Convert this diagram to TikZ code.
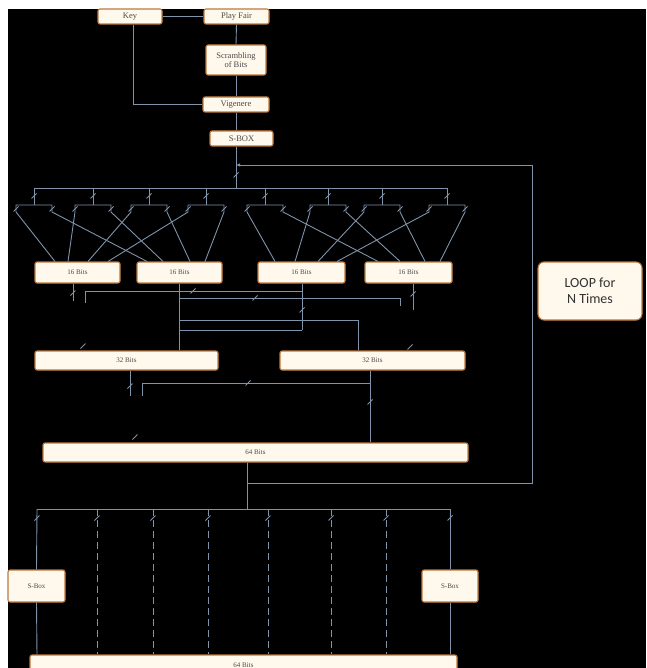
\documentclass[tikz,border=0pt]{standalone}
\usepackage{fontspec}
\setmainfont{Liberation Serif}
\newfontfamily\loopfont{Carlito}
\usetikzlibrary{arrows.meta}
\definecolor{wirec}{HTML}{7F93AB}
\definecolor{boxfill}{HTML}{FFF8EC}
\definecolor{boxedge}{HTML}{C0783A}
\definecolor{boxtext}{HTML}{4A4A4A}
\begin{document}
\begin{tikzpicture}[x=1pt,y=-1pt,
  wire/.style={draw=wirec,line width=0.9pt},
  dwire/.style={wire,dash pattern=on 7pt off 4pt},
  blk/.style={rectangle,rounded corners=2pt,fill=boxfill,draw=boxedge,line width=1.1pt,
    text=boxtext,font=\fontsize{7}{8}\selectfont,inner sep=0pt,align=center},
  topblk/.style={blk,font=\fontsize{8.5}{9.5}\selectfont},
  tk/.pic={\draw[wirec,line width=0.8pt] (-2.5,2.5) -- (2.5,-2.5);}
]
\useasboundingbox (0,0) rectangle (646,668);
\fill[white] (0,0) rectangle (646,668);
\fill[black] (8,9) rectangle (646,668);

% ---------- boxes ----------
\node[topblk,minimum width=64pt,minimum height=15pt] (key) at (130,16.5) {Key};
\node[topblk,minimum width=65pt,minimum height=15pt] (pf) at (236.5,16.5) {Play Fair};
\node[topblk,minimum width=60pt,minimum height=30pt] (scr) at (236,60) {Scrambling\\of Bits};
\node[topblk,minimum width=66pt,minimum height=15pt] (vig) at (236,104.5) {Vigenere};
\node[topblk,minimum width=63pt,minimum height=15pt] (sbox) at (241.5,138.5) {S-BOX};

\node[blk,minimum width=85pt,minimum height=21pt] (n16a) at (77.5,272.5) {16 Bits};
\node[blk,minimum width=85pt,minimum height=21pt] (n16b) at (179.5,272.5) {16 Bits};
\node[blk,minimum width=87pt,minimum height=21pt] (n16c) at (301.5,272.5) {16 Bits};
\node[blk,minimum width=87pt,minimum height=21pt] (n16d) at (408.5,272.5) {16 Bits};

\node[blk,minimum width=183pt,minimum height=19pt] (n32a) at (126.5,360.5) {32 Bits};
\node[blk,minimum width=185pt,minimum height=19pt] (n32b) at (372.5,360.5) {32 Bits};

\node[blk,minimum width=425pt,minimum height=19pt] (n64) at (255.5,452.5) {64 Bits};

\node[blk,minimum width=57pt,minimum height=32pt] (sbl) at (36.5,586) {S-Box};
\node[blk,minimum width=56pt,minimum height=32pt] (sbr) at (450,586) {S-Box};
\node[blk,minimum width=427pt,minimum height=20pt] (nb64) at (243.5,665) {64 Bits};

\node[rectangle,rounded corners=6pt,fill=boxfill,draw=boxedge,line width=1.1pt,
  minimum width=104pt,minimum height=58pt,align=center,text=black!80,
  font=\loopfont\fontsize{14}{16}\selectfont] (loop) at (590,291) {LOOP for\\N Times};

% ---------- top chain ----------
\draw[wire] (key.east) -- (pf.west);
\draw[wire] ([xshift=3pt]key.south) |- (vig.west);
\draw[wire] (pf.south) -- (scr.north);
\draw[wire] (scr.south) -- (vig.north);
\draw[wire] (vig.south) -- (vig.south |- sbox.north);

\coordinate (t0) at (236,188);
\coordinate (busL) at (34,188);
\coordinate (busR) at (447,188);
\draw[wire] (sbox.south -| vig.south) -- (t0);
\draw[wire] (busL) -- (busR);

% ---------- loop back ----------
\coordinate (lpA) at (532,165);
\coordinate (lpB) at (532,483);
\coordinate (j64) at (247,483);
\coordinate (lpIn) at (236,165);
\draw[wire] (j64) -- (lpB) -- (lpA);
\draw[wire,-{Latex[length=4pt,width=3.5pt]}] (lpA) -- (lpIn);
\pic at (236,175) {tk};

% ---------- splitting groups ----------
\foreach \c/\la/\ra/\bl/\br in {34/55/147/n16a/n16b, 93/68/163/n16a/n16b,
    149/88/190/n16a/n16b, 206/108/205/n16a/n16b, 265/275/378/n16c/n16d,
    328/295/400/n16c/n16d, 382/318/425/n16c/n16d, 447/337/440/n16c/n16d}{
  \draw[wire] (\c,188) -- (\c,205);
  \draw[wire] (\la,0 |- \bl.north) -- (\c-18,212) -- (\c-18,205) -- (\c+18,205)
     -- (\c+18,212) -- (\ra,0 |- \br.north);
  \pic at (\c,196) {tk};
  \pic at (\c-18,209) {tk};
  \pic at (\c+18,209) {tk};
}

% ---------- 16 -> 32 ----------
\draw[wire] ([xshift=-4.5pt]n16a.south) -- ++(0,17);
\draw[wire] (179,0 |- n16b.south) -- (179,0 |- n32a.north);
\draw[wire] (179,298) -- (400,298) -- (400,306);
\draw[wire] (179,320) -- (358,320) -- (358,0 |- n32b.north);
\draw[wire] (179,330) -- (302,330);
\draw[wire] (302,0 |- n16c.south) -- (302,330);
\draw[wire] (302,291) -- (85,291) -- (85,303);
\draw[wire] (413,0 |- n16d.south) -- (413,310);
\pic at (73,293) {tk};
\pic at (193,291) {tk};
\pic at (255,298) {tk};
\pic at (302,310) {tk};
\pic at (413,294) {tk};
\pic at (83,346) {tk};
\pic at (410,347) {tk};

% ---------- 32 -> 64 ----------
\draw[wire] (130,0 |- n32a.south) -- (130,396);
\draw[wire] (370,0 |- n32b.south) -- (370,0 |- n64.north);
\draw[wire] (370,383) -- (142,383) -- (142,396);
\pic at (130,386) {tk};
\pic at (370,402) {tk};
\pic at (248,383) {tk};
\pic at (135,437) {tk};

% ---------- 64 -> bottom ----------
\coordinate (bb) at (247,509);
\coordinate (bL) at (37,509);
\coordinate (bR) at (450,509);
\draw[wire] (n64.south -| j64) -- (bb);
\draw[wire] (bL) -- (bR);
\draw[wire] (bL) -- (sbl.north);
\draw[wire] (sbl.south) -- (37,0 |- nb64.north);
\draw[wire] (bR) -- (sbr.north);
\draw[wire] (sbr.south) -- (450,0 |- nb64.north);
\pic at (37,518) {tk};
\pic at (450,518) {tk};
\foreach \x in {97,153,208,268,331,386}{
  \draw[dwire] (\x,509) -- (\x,0 |- nb64.north);
  \pic at (\x,518) {tk};
}
\end{tikzpicture}
\end{document}
